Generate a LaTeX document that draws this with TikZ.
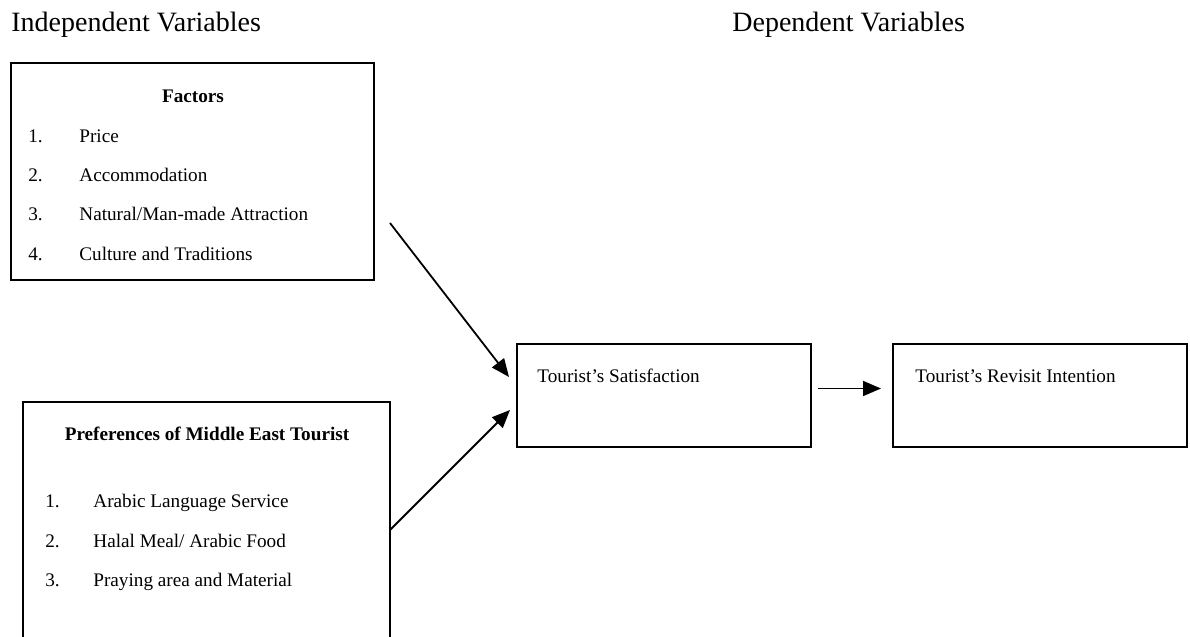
\documentclass[tikz,border=0pt]{standalone}
\usepackage{fontspec}
\setmainfont{Liberation Serif}
\usetikzlibrary{arrows.meta}
\tikzset{
  box/.style={draw,line width=1pt,inner sep=0pt,outer sep=0pt},
  txt/.style={inner sep=0pt,anchor=base west,font=\fontsize{9.6}{11}\selectfont},
  head/.style={inner sep=0pt,anchor=base west,font=\fontsize{14}{16}\selectfont},
  arr/.style={line width=0.9pt,-{Triangle[length=9pt,width=7.5pt]}}
}
\begin{document}
\begin{tikzpicture}[x=0.5pt,y=-0.5pt]
\useasboundingbox (0,0) rectangle (1190,637);
\clip (0,0) rectangle (1190,637);
% headings
\node[head] (indep) at (11,32) {Independent Variables};
\node[head] (dep) at (732,32) {Dependent Variables};
% factors box
\node[box,minimum width=181.5pt,minimum height=108.5pt] (fac) at (192.5,171.5) {};
\node[txt,anchor=base,font=\fontsize{9.6}{11}\selectfont\bfseries] (factit) at (193,102) {Factors};
\node[txt] (f1n) at (28,142) {1.};
\node[txt] (f1) at (79,142) {Price};
\node[txt] (f2n) at (28,181) {2.};
\node[txt] (f2) at (79,181) {Accommodation};
\node[txt] (f3n) at (28,220) {3.};
\node[txt] (f3) at (79,220) {Natural/Man-made Attraction};
\node[txt] (f4n) at (28,260) {4.};
\node[txt] (f4) at (79,260) {Culture and Traditions};
% preferences box
\node[box,minimum width=183.5pt,minimum height=121.5pt] (pref) at (206.5,523.5) {};
\node[txt,anchor=base,font=\fontsize{9.6}{11}\selectfont\bfseries] (preftit) at (207,440) {Preferences of Middle East Tourist};
\node[txt] (p1n) at (45,507) {1.};
\node[txt] (p1) at (93,507) {Arabic Language Service};
\node[txt] (p2n) at (45,547) {2.};
\node[txt] (p2) at (93,547) {Halal Meal/ Arabic Food};
\node[txt] (p3n) at (45,586) {3.};
\node[txt] (p3) at (93,586) {Praying area and Material};
% dependent boxes
\node[box,minimum width=147pt,minimum height=51.5pt] (sat) at (664,395.5) {};
\node[txt] (sattxt) at (537,382) {Tourist’s Satisfaction};
\node[box,minimum width=147pt,minimum height=51.5pt] (rev) at (1040,395.5) {};
\node[txt] (revtxt) at (915,382) {Tourist’s Revisit Intention};
% arrows
\coordinate (facout) at (390,223);
\draw[arr] (facout) -- ([xshift=-4pt,yshift=-16.5pt]sat.north west);
\draw[arr] ([yshift=-3.25pt]pref.east) -- ([xshift=-3.5pt,yshift=18.5pt]sat.south west);
\draw[arr,shorten <=3.5pt,shorten >=6pt] ([yshift=3.5pt]sat.east) -- ([yshift=3.5pt]rev.west);
\end{tikzpicture}
\end{document}
